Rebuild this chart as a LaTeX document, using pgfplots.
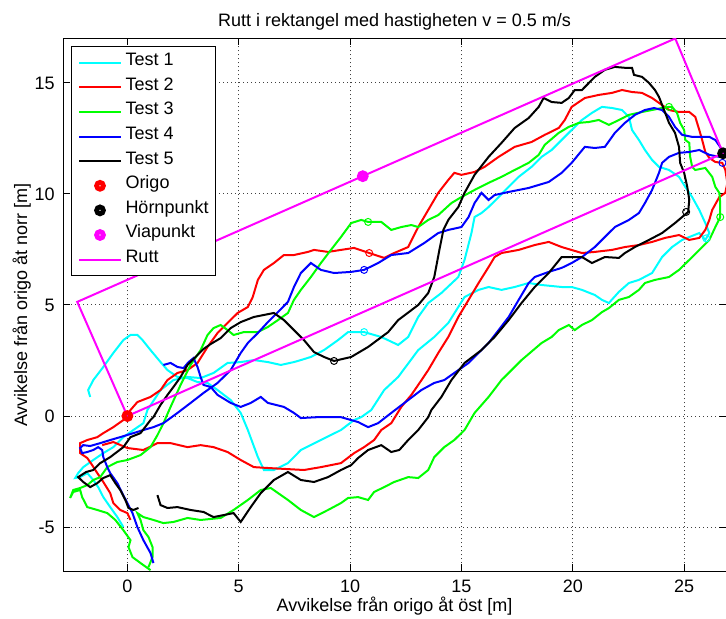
\documentclass[border=0pt]{standalone}
\usepackage{fontspec}
\setmainfont{Liberation Sans}
\usepackage{pgfplots}
\pgfplotsset{compat=1.18}

\definecolor{mcyan}{rgb}{0,1,1}
\definecolor{mred}{rgb}{1,0,0}
\definecolor{mgreen}{rgb}{0,1,0}
\definecolor{mblue}{rgb}{0,0,1}
\definecolor{mmag}{rgb}{1,0,1}

\pgfplotsset{
  trace/.style={color=#1, line width=1pt, mark=none,
    legend image code/.code={\draw[##1] (0pt,0pt) -- (20.5pt,0pt);}},
  point/.style={color=#1, only marks, mark=o, mark size=1.7pt,
    mark options={line width=2.4pt, fill=none},
    legend image code/.code={\path[##1] plot coordinates {(10.25pt,0pt)};}},
  pass/.style={color=#1, only marks, mark=o, mark size=1.75pt,
    mark options={line width=0.5pt}, forget plot},
}

\begin{document}
\begin{tikzpicture}
\begin{axis}[
  scale only axis,
  width=331.5pt, height=266.5pt,
  xmin=-2.89, xmax=26.88, ymin=-7, ymax=17,
  xtick={0,5,...,25}, ytick={-5,0,...,15},
  grid=major,
  grid style={black!75, line width=0.5pt, dash pattern=on 0.5pt off 1.5pt},
  axis line style={line width=0.5pt},
  tick style={black, line width=0.5pt},
  major tick length=3.5pt,
  tick align=inside,
  font=\fontsize{9}{10.8}\selectfont,
  /pgf/number format/assume math mode=true,
  xticklabel style={anchor=base, yshift=-10.5pt},
  yticklabel style={anchor=east, inner sep=0pt, xshift=-4pt},
  title={Rutt i rektangel med hastigheten v = 0.5 m/s},
  title style={at={(axis description cs:0.5,1)}, anchor=base, inner sep=0pt},
  xlabel={Avvikelse från origo åt öst [m]},
  xlabel style={at={(axis description cs:0.5,0)}, anchor=base, yshift=-20pt, inner sep=0pt},
  ylabel={Avvikelse från origo åt norr [m]},
  ylabel style={at={(axis description cs:0,0.5)}, anchor=base, yshift=18pt, inner sep=0pt},
  legend cell align=left,
  legend style={at={(axis description cs:0,1)}, anchor=north west,
    xshift=4pt, yshift=-3.75pt, draw=black, line width=0.5pt, fill=white,
    inner xsep=3.5pt, inner ysep=2pt, row sep=0pt, column sep=2pt,
    nodes={inner sep=0pt, text height=7.6pt, text depth=4.7pt},
    font=\fontsize{9}{10.8}\selectfont},
]

% Test 1
\addplot[trace=mcyan] coordinates {
(-0.18,-5.00) (-0.45,-4.55) (-0.77,-4.10) (-1.08,-3.65) (-1.31,-3.20) (-1.53,-2.88)
(-1.80,-2.57) (-2.12,-2.75) (-2.34,-2.79) (-2.21,-2.57) (-1.98,-2.30) (-1.53,-1.98)
(-1.08,-1.67) (-0.63,-1.40) (-0.18,-0.95) (0.27,-0.63) (0.72,-0.32) (0.90,0.27)
(1.49,1.17) (2.07,1.62) (2.70,1.76) (3.29,1.71) (3.87,1.94) (4.50,2.39) (5.09,2.43)
(5.68,2.52) (6.31,2.43) (6.89,2.30) (7.48,2.43) (7.79,2.52) (8.24,2.66) (8.83,2.97)
(9.46,3.42) (9.91,3.78) (10.63,3.78) (11.40,3.56) (12.16,3.20) (12.61,3.56) (13.06,4.46)
(13.51,5.09) (14.10,5.54) (14.86,6.26) (15.14,7.03) (15.45,8.24) (15.59,8.96) (15.90,9.14)
(16.22,9.41) (16.67,9.86) (17.12,10.32) (17.57,10.77) (18.15,11.22) (18.60,11.67)
(19.05,11.98) (19.50,12.43) (19.95,12.88) (20.41,13.33) (20.86,13.65) (21.31,13.92)
(21.76,13.87) (22.21,13.78) (22.52,13.47) (22.66,12.88) (22.97,12.43) (23.24,11.98)
(23.56,11.53) (23.87,11.22) (24.32,11.08) (24.77,10.77) (25.05,10.32) (25.36,9.86)
(25.68,9.28) (25.95,8.69) (26.13,8.24) (25.95,7.93) (25.68,8.24) (25.23,8.06) (24.91,7.93)
(24.46,7.61) (24.01,7.16) (23.56,6.44) (22.97,6.13) (22.52,5.99) (22.07,5.59) (21.62,5.09)
(21.31,5.23) (20.99,5.45) (20.41,5.68) (19.95,5.81) (19.50,5.81) (18.60,5.90) (18.02,5.99)
(17.39,5.81) (16.80,5.68) (16.22,5.81) (15.77,5.68) (15.14,5.36) (14.41,4.19) (13.78,3.56)
(13.06,2.97) (12.16,1.76) (11.53,1.17) (10.95,0.27) (10.50,-0.05) (10.18,-0.18) (9.59,-0.63)
(8.69,-1.08) (7.79,-1.53) (7.21,-2.12) (6.58,-2.43) (6.13,-2.43) (5.86,-1.85) (5.41,-0.63)
(5.09,0.14) (4.64,0.72) (4.05,1.17) (3.60,1.49) (3.15,1.53) (2.70,1.71) (2.25,1.76)
(1.80,2.07) (1.49,2.43) (1.04,2.97) (0.68,3.42) (0.45,3.65) (0.14,3.65) (-0.18,3.42)
(-0.63,2.84) (-1.08,2.21) (-1.53,1.62) (-1.76,1.17) (-1.67,0.86)
};
\addlegendentry{Test 1}

% Test 2
\addplot[trace=mred] coordinates {
(0.14,-4.68) (0,-4.37) (-0.32,-4.23) (-0.63,-3.92) (-0.77,-3.47) (-1.08,-2.97) (-1.35,-2.57)
(-1.58,-2.21) (-1.80,-1.89) (-2.12,-1.67) (-2.12,-1.22) (-1.80,-1.08) (-1.35,-0.95)
(-1.08,-0.77) (-0.63,-0.50) (-0.18,-0.18) (0.14,0.27) (0.45,0.63) (1.04,0.86) (1.49,1.17)
(1.80,1.62) (2.25,1.94) (2.70,2.07) (3.15,2.39) (3.60,3.11) (4.05,3.74) (4.50,4.19)
(4.95,4.64) (5.41,4.91) (5.63,5.36) (5.86,6.13) (6.13,6.58) (6.58,6.89) (7.03,7.25)
(7.48,7.25) (8.11,7.39) (8.38,7.48) (9.01,7.39) (9.59,7.48) (10.18,7.57) (10.86,7.34)
(11.53,7.12) (11.98,7.34) (12.61,7.61) (13.06,8.51) (13.51,9.28) (13.96,10.05) (14.41,10.63)
(14.68,10.95) (15.00,10.86) (15.59,10.99) (16.04,11.22) (16.67,11.67) (17.39,12.12)
(18.15,12.34) (18.74,12.66) (19.37,12.97) (19.64,13.33) (19.95,13.92) (20.54,14.32)
(21.17,14.46) (21.76,14.55) (22.21,14.68) (22.66,14.59) (23.11,14.55) (23.56,14.32)
(23.87,14.10) (24.32,13.78) (24.77,13.69) (25.23,13.69) (25.50,13.47) (25.68,12.88)
(25.81,12.43) (25.95,11.89) (26.13,11.62) (26.40,11.44) (26.71,11.40) (26.85,11.08)
(26.94,10.50) (26.85,10.05) (26.58,9.86) (26.26,9.28) (26.13,8.83) (25.95,8.38) (25.68,8.02)
(25.23,7.93) (24.77,8.15) (24.14,8.02) (23.56,7.84) (22.97,7.70) (22.34,7.61) (21.76,7.48)
(20.99,7.39) (20.41,7.34) (19.50,7.61) (18.92,7.84) (18.29,7.70) (17.57,7.48) (16.80,7.34)
(16.49,7.16) (16.22,6.71) (15.77,5.99) (15.32,5.23) (14.86,4.46) (14.41,3.56) (13.96,2.84)
(13.51,2.07) (13.06,1.40) (12.75,0.95) (12.30,0.41) (11.85,-0.32) (11.40,-0.63) (11.08,-1.08)
(10.63,-1.40) (10.18,-1.67) (9.59,-2.12) (8.69,-2.30) (7.93,-2.43) (7.21,-2.39) (6.31,-2.34)
(5.68,-2.30) (5.09,-1.98) (4.50,-1.62) (3.87,-1.40) (3.29,-1.31) (2.70,-1.40) (1.94,-1.22)
(1.35,-1.22) (0.72,-1.53) (0,-1.44) (-0.63,-1.17) (-1.13,-1.31)
};
\addlegendentry{Test 2}

% Test 3
\addplot[trace=mgreen] coordinates {
(1.04,-6.94) (0.59,-6.62) (0.23,-6.35) (0.05,-5.90) (0.14,-5.59) (-0.18,-5.14) (-0.54,-4.68)
(-0.90,-4.37) (-1.35,-4.23) (-1.80,-4.10) (-2.03,-3.65) (-2.12,-3.33) (-2.43,-3.42)
(-2.57,-3.69) (-2.43,-3.33) (-2.12,-3.24) (-1.80,-3.11) (-1.53,-2.88) (-1.22,-2.75)
(-0.90,-2.30) (-0.45,-2.07) (0,-1.98) (0.59,-1.76) (1.04,-1.40) (1.35,-0.86) (1.62,-0.32)
(1.94,0.41) (2.39,1.40) (2.84,2.30) (3.29,2.97) (3.60,3.65) (3.87,3.96) (4.19,4.10)
(4.50,3.87) (4.77,3.65) (5.23,3.78) (5.86,3.78) (6.31,4.01) (6.76,4.32) (7.21,4.64)
(7.48,5.23) (7.79,5.68) (8.24,6.26) (8.69,6.89) (9.14,7.48) (9.59,8.06) (10.05,8.69)
(10.50,8.83) (10.81,8.74) (11.40,8.74) (11.85,8.38) (12.30,8.51) (12.75,8.60) (13.06,8.51)
(13.51,8.83) (13.96,9.05) (14.55,9.59) (15.00,9.86) (15.59,10.18) (16.22,10.50) (16.80,10.77)
(17.39,11.08) (18.02,11.40) (18.47,11.76) (18.74,12.21) (19.37,12.75) (19.82,13.02)
(20.27,13.20) (20.72,13.24) (21.17,13.33) (21.62,13.11) (22.07,13.33) (22.52,13.56)
(23.11,13.69) (23.56,13.78) (24.01,13.87) (24.32,13.92) (24.46,13.92) (24.68,13.65)
(24.82,13.20) (25.00,12.88) (25.05,12.43) (25.23,12.30) (25.27,11.67) (25.36,11.22)
(25.50,11.08) (25.95,11.17) (26.26,10.77) (26.40,10.32) (26.58,10.05) (26.62,9.59)
(26.62,8.96) (26.40,8.51) (26.13,7.93) (25.68,7.48) (25.23,7.03) (24.77,6.58) (24.32,6.26)
(23.69,6.13) (23.24,5.99) (22.97,5.68) (22.52,5.36) (22.07,5.23) (21.62,4.86) (21.31,4.68)
(20.86,4.32) (20.41,4.10) (20.09,3.87) (19.82,4.10) (19.37,3.87) (19.05,3.56) (18.60,3.29)
(17.70,2.52) (16.80,1.62) (16.22,0.86) (15.59,0.14) (15.14,-0.63) (14.68,-1.08)
(14.23,-1.40) (13.78,-1.85) (13.51,-2.43) (13.06,-2.79) (12.61,-2.75) (11.98,-2.97)
(11.53,-3.20) (11.08,-3.42) (10.81,-3.78) (10.36,-3.65) (9.91,-3.69) (9.59,-3.92)
(9.01,-4.23) (8.38,-4.55) (7.79,-4.23) (7.21,-3.78) (6.44,-3.24) (5.99,-3.33) (5.41,-3.78)
(4.77,-4.23) (4.19,-4.59) (3.29,-4.68) (2.70,-4.59) (2.07,-4.77) (1.62,-4.82) (1.17,-4.68)
(0.72,-4.55) (0.45,-4.37) (0.59,-4.68) (0.72,-5.14) (0.95,-5.45) (1.13,-5.90) (1.13,-6.35)
(0.95,-6.80)
};
\addlegendentry{Test 3}

% Test 4
\addplot[trace=mblue] coordinates {
(1.17,-6.62) (1.04,-6.17) (0.72,-5.59) (0.45,-5.00) (0.23,-4.37) (0,-3.92) (-0.23,-3.47)
(-0.45,-3.02) (-0.77,-2.57) (-0.90,-2.30) (-1.08,-1.85) (-1.13,-1.53) (-1.31,-1.40)
(-1.53,-1.53) (-1.80,-1.62) (-2.03,-1.67) (-2.12,-1.44) (-1.98,-1.31) (-1.67,-1.35)
(-1.22,-1.22) (-0.77,-1.08) (-0.32,-0.95) (0.27,-0.77) (0.72,-0.63) (1.17,-0.50)
(1.62,-0.32) (2.25,0.14) (2.84,0.59) (3.42,1.04) (4.05,1.49) (4.64,2.07) (5.09,2.84)
(5.41,3.29) (5.86,3.74) (6.31,4.23) (6.76,4.68) (7.21,5.14) (7.48,5.81) (7.79,6.44)
(8.24,6.89) (8.69,6.58) (9.28,6.44) (10.05,6.49) (10.63,6.58) (11.26,6.89) (11.85,7.25)
(12.61,7.34) (13.33,7.79) (13.96,8.24) (14.41,8.38) (15.00,8.51) (15.32,8.96) (15.59,9.59)
(15.90,10.05) (16.22,9.73) (16.49,9.95) (17.12,10.09) (18.02,10.27) (18.92,10.54)
(19.50,10.95) (19.95,11.40) (20.54,12.12) (20.99,12.07) (21.44,12.12) (21.89,12.75)
(22.34,13.20) (22.79,13.56) (23.24,13.78) (23.65,13.87) (24.01,13.78) (24.32,13.47)
(24.59,13.02) (24.91,12.66) (25.36,12.57) (25.81,12.57) (26.13,12.57) (26.40,12.43)
(26.71,11.98) (26.94,11.76) (26.58,11.67) (26.13,11.76) (25.68,11.98) (25.23,11.89)
(24.77,11.85) (24.32,11.67) (24.01,11.40) (23.87,10.95) (23.56,10.18) (23.24,9.59)
(22.97,9.14) (22.52,8.83) (21.89,8.51) (21.44,8.06) (20.99,7.61) (20.41,7.16) (19.95,6.89)
(19.50,6.67) (18.92,6.49) (18.29,6.26) (18.02,5.99) (17.57,5.23) (17.12,4.46) (16.67,3.87)
(16.22,3.29) (15.77,2.84) (15.32,2.39) (14.68,1.94) (14.23,1.62) (13.78,1.49) (13.20,1.17)
(12.61,0.72) (11.85,0.14) (11.26,-0.32) (10.81,-0.50) (10.36,-0.27) (9.59,-0.05) (9.14,-0.05)
(8.56,-0.05) (7.79,-0.09) (7.48,0.14) (7.03,0.41) (6.31,0.59) (5.99,0.86) (5.54,0.59)
(5.09,0.41) (4.64,0.59) (4.05,0.95) (3.74,1.31) (3.42,1.40) (3.29,1.76) (3.15,2.21)
(2.97,2.61) (2.75,2.43) (2.52,2.16) (2.25,2.21) (1.94,2.39) (1.62,2.30)
};
\addlegendentry{Test 4}

% Test 5
\addplot[trace=black] coordinates {
(0.50,-4.14) (0.27,-4.23) (0.05,-4.14) (-0.09,-3.78) (-0.32,-3.33) (-0.54,-3.02) (-0.77,-2.66)
(-1.08,-2.79) (-1.35,-3.02) (-1.67,-3.20) (-1.98,-2.97) (-2.21,-2.75) (-1.85,-2.52)
(-1.53,-2.43) (-1.22,-2.12) (-0.77,-1.85) (-0.18,-1.40) (0.14,-0.95) (0.59,-0.77)
(1.04,-0.18) (1.17,-0.05) (1.49,0.50) (1.80,0.95) (2.07,1.31) (2.39,1.76) (2.70,2.30)
(3.15,2.75) (3.42,3.02) (3.74,3.24) (4.19,3.51) (4.64,3.96) (5.09,4.23) (5.68,4.46)
(6.13,4.55) (6.58,4.64) (7.03,4.32) (7.48,3.87) (7.93,3.42) (8.38,2.88) (8.83,2.66)
(9.28,2.48) (10.05,2.66) (10.81,3.11) (11.71,3.78) (12.16,4.32) (13.06,5.00) (13.51,5.54)
(13.78,6.26) (14.01,7.48) (14.19,8.38) (14.41,8.83) (14.86,9.41) (15.14,10.05) (15.59,10.86)
(16.22,11.67) (16.80,12.30) (17.39,12.97) (18.02,13.42) (18.47,13.92) (18.69,14.32)
(19.05,14.14) (19.50,14.10) (19.82,14.32) (20.09,14.68) (20.41,14.68) (20.99,15.27)
(21.44,15.59) (21.89,15.72) (22.34,15.68) (22.66,15.68) (22.75,15.36) (23.11,15.27)
(23.42,15.00) (23.69,14.68) (23.87,14.37) (24.10,13.78) (24.32,13.20) (24.59,12.75)
(24.77,12.12) (24.82,11.40) (25.00,10.95) (25.14,10.32) (25.23,9.73) (25.18,9.19)
(24.59,8.69) (24.01,8.24) (23.42,7.93) (22.79,7.61) (22.34,7.34) (22.07,7.12) (21.44,7.16)
(20.86,6.89) (20.41,7.16) (19.50,7.16) (18.92,6.44) (18.29,5.81) (17.70,5.09) (17.12,4.32)
(16.49,3.56) (15.90,2.97) (15.14,2.39) (14.55,1.62) (14.10,0.86) (13.65,0.27) (13.51,-0.05)
(13.06,-0.63) (12.61,-1.08) (12.21,-1.53) (11.85,-1.62) (11.40,-1.31) (10.81,-1.53)
(10.36,-1.89) (10.05,-2.21) (9.59,-2.43) (9.01,-2.75) (8.38,-2.97) (7.79,-2.88) (7.21,-2.52)
(6.58,-2.88) (5.99,-3.47) (5.54,-4.10) (5.09,-4.77) (4.77,-4.37) (4.32,-4.46) (3.87,-4.55)
(3.42,-4.32) (2.84,-4.23) (2.25,-4.10) (1.80,-4.14) (1.49,-4.01) (1.35,-3.56)
};
\addlegendentry{Test 5}

% passage markers on each run
\addplot[pass=mcyan] coordinates {(10.63,3.78) (25.99,8.00)};
\addplot[pass=mred] coordinates {(10.86,7.34)};
\addplot[pass=mgreen] coordinates {(10.81,8.74) (24.32,13.92) (26.62,8.96)};
\addplot[pass=mblue] coordinates {(10.63,6.58) (26.72,11.40)};
\addplot[pass=black] coordinates {(9.28,2.48) (25.09,9.19)};

% reference points
\addplot[point=mred] coordinates {(0,0)};
\addlegendentry{Origo}
\addplot[point=black] coordinates {(26.75,11.83)};
\addlegendentry{Hörnpunkt}
\addplot[point=mmag] coordinates {(10.57,10.80)};
\addlegendentry{Viapunkt}

% planned route
\addplot[trace=mmag] coordinates {
(0,0) (-2.25,5.14) (24.60,17.00) (26.75,11.83) (0,0)
};
\addlegendentry{Rutt}

\end{axis}
\pgfresetboundingbox
\path ([shift={(-31.5pt,-23.5pt)}]current axis.south west)
  rectangle ([shift={(0pt,19.25pt)}]current axis.north east);
\end{tikzpicture}
\end{document}
